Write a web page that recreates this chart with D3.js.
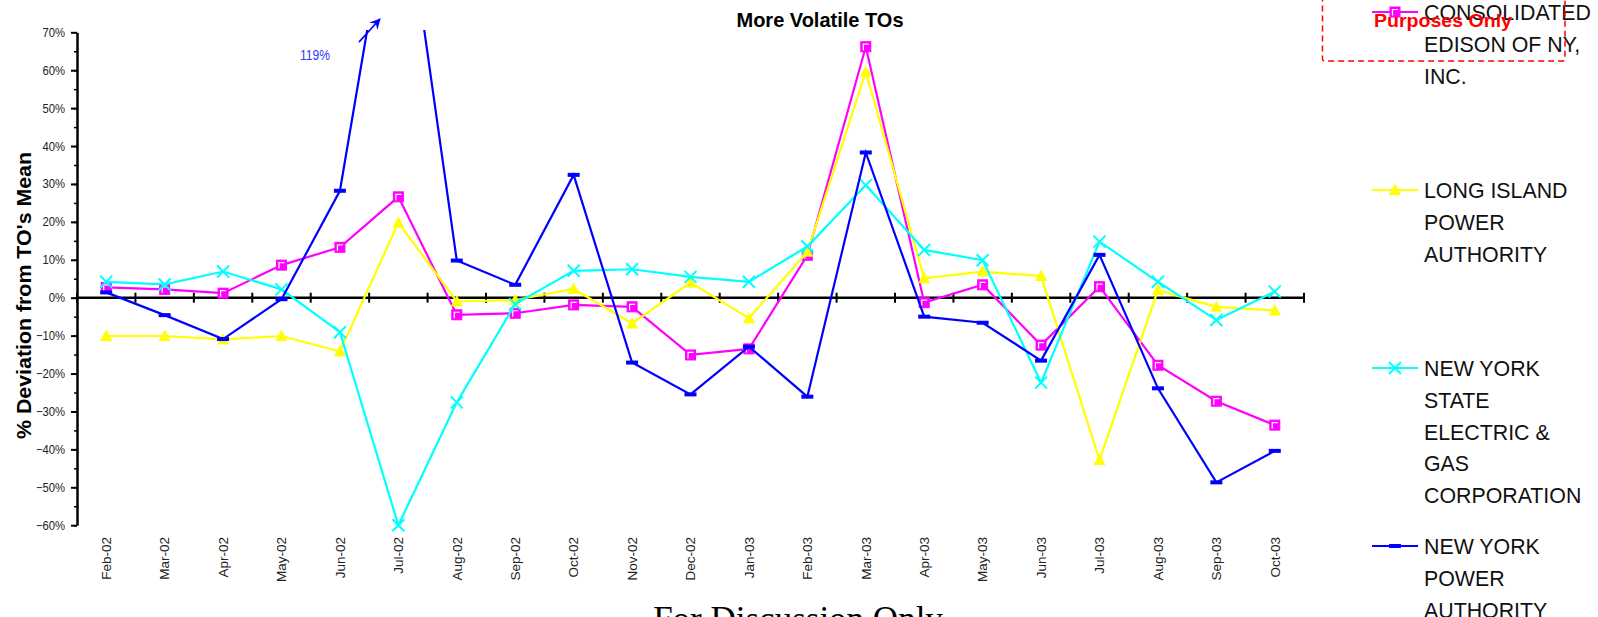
<!DOCTYPE html>
<html>
<head>
<meta charset="utf-8">
<script src="https://cdn.jsdelivr.net/npm/d3@7"></script>
<style>
  html, body { margin: 0; padding: 0; background: #fff; }
  svg { display: block; font-family: "Liberation Sans", Arial, sans-serif; }
</style>
</head>
<body>
<div id="chart"></div>
<script>
// Monthly % deviation from each TO's mean
const months = ['Feb-02', 'Mar-02', 'Apr-02', 'May-02', 'Jun-02', 'Jul-02', 'Aug-02', 'Sep-02',
    'Oct-02', 'Nov-02', 'Dec-02', 'Jan-03', 'Feb-03', 'Mar-03', 'Apr-03', 'May-03', 'Jun-03',
    'Jul-03', 'Aug-03', 'Sep-03', 'Oct-03'];

const conEd = [0.027, 0.022, 0.012, 0.086, 0.133, 0.266, -0.045, -0.041, -0.019, -0.024, -0.151,
    -0.135, 0.112, 0.662, -0.013, 0.034, -0.125, 0.029, -0.178, -0.273, -0.336];
const lipa = [-0.101, -0.101, -0.110, -0.101, -0.142, 0.198, -0.010, -0.006, 0.023, -0.068, 0.040,
    -0.054, 0.121, 0.596, 0.051, 0.069, 0.057, -0.428, 0.020, -0.024, -0.034];
const nyseg = [0.042, 0.035, 0.069, 0.022, -0.091, -0.600, -0.276, -0.017, 0.071, 0.075, 0.055,
    0.042, 0.135, 0.297, 0.126, 0.099, -0.224, 0.148, 0.042, -0.059, 0.016];
const nypa = [0.014, -0.046, -0.109, -0.004, 0.282, 1.19, 0.098, 0.034, 0.324, -0.171, -0.255,
    -0.129, -0.261, 0.383, -0.050, -0.066, -0.166, 0.113, -0.239, -0.487, -0.404];

const seriesNames = [
    ['CONSOLIDATED', 'EDISON OF NY,', 'INC.'],
    ['LONG ISLAND', 'POWER', 'AUTHORITY'],
    ['NEW YORK', 'STATE', 'ELECTRIC &', 'GAS', 'CORPORATION'],
    ['NEW YORK', 'POWER', 'AUTHORITY']
];
const seriesColors = ['#ff00ff', '#ffff00', '#00ffff', '#0000ff'];
const seriesMarkers = ['square', 'triangle', 'cross', 'dash'];
const seriesValues = [conEd, lipa, nyseg, nypa];

const yTicks = d3.range(-6, 8).map(d => d / 10);
const yMinorTicks = d3.range(-12, 15).map(d => d / 20);

const W = 1598, H = 617;

const svg = d3.select('#chart').append('svg')
    .attr('width', W)
    .attr('height', H);

svg.append('rect').attr('width', W).attr('height', H).attr('fill', '#fff');

// scales
const xScale = d3.scaleBand().domain(months).range([77, 1304]);
const yScale = d3.scaleLinear().domain([-0.6, 0.7]).range([525.2, 32.3]);
const bw = xScale.bandwidth();
const cx = m => xScale(m) + bw / 2;

// condense helper (source fonts are narrow)
function squeeze(sel, k) {
    sel.each(function () {
        const len = this.getComputedTextLength();
        d3.select(this).attr('textLength', len * k).attr('lengthAdjust', 'spacingAndGlyphs');
    });
}

// title
svg.append('text')
    .attr('x', 820).attr('y', 27)
    .attr('text-anchor', 'middle')
    .style('font-size', '21px').style('font-weight', 'bold')
    .attr('textLength', 167).attr('lengthAdjust', 'spacingAndGlyphs')
    .text('More Volatile TOs');

// y axis title
svg.append('text')
    .attr('transform', 'translate(31,295.5) rotate(-90)')
    .attr('text-anchor', 'middle')
    .style('font-size', '20px').style('font-weight', 'bold')
    .attr('textLength', 287).attr('lengthAdjust', 'spacingAndGlyphs')
    .text("% Deviation from TO's Mean");

// y axis: minor ticks then major
svg.append('g')
    .attr('transform', 'translate(77,0)')
    .call(d3.axisLeft(yScale).tickValues(yMinorTicks).tickSize(3).tickFormat(''))
    .call(g => g.select('.domain').remove())
    .selectAll('line').attr('stroke', '#000').attr('stroke-width', 1.5);

const yAxisG = svg.append('g')
    .attr('transform', 'translate(77,0)')
    .call(d3.axisLeft(yScale).tickValues(yTicks).tickSize(6).tickSizeOuter(0).tickPadding(6)
        .tickFormat(d3.format('.0%')));
yAxisG.select('.domain').attr('stroke', '#000').attr('stroke-width', 2.5);
yAxisG.selectAll('line').attr('stroke', '#000').attr('stroke-width', 2);
yAxisG.selectAll('text')
    .style('font-size', '12.5px')
    .style('font-family', '"Liberation Sans", Arial, sans-serif')
    .attr('fill', '#222')
    .call(squeeze, 0.9);

// x axis along 0%
const y0 = yScale(0);
const bounds = months.map(m => xScale(m)).concat([xScale.range()[1]]);
svg.append('line')
    .attr('x1', xScale.range()[0]).attr('x2', xScale.range()[1])
    .attr('y1', y0).attr('y2', y0)
    .attr('stroke', '#000').attr('stroke-width', 2.5);
svg.selectAll('.xtick')
    .data(bounds)
    .enter().append('line')
    .attr('class', 'xtick')
    .attr('x1', d => d).attr('x2', d => d)
    .attr('y1', y0 - 5).attr('y2', y0 + 5)
    .attr('stroke', '#000').attr('stroke-width', 2);

svg.selectAll('.xlabel')
    .data(months)
    .enter().append('text')
    .attr('class', 'xlabel')
    .attr('transform', d => `translate(${cx(d)},537) rotate(-90)`)
    .attr('dy', '0.35em')
    .attr('text-anchor', 'end')
    .style('font-size', '13.5px')
    .attr('fill', '#222')
    .text(d => d);

// series
svg.append('clipPath').attr('id', 'plot-clip')
    .append('rect')
    .attr('x', 0).attr('y', 30)
    .attr('width', W).attr('height', H - 30);

const line = d3.line()
    .x((d, i) => cx(months[i]))
    .y(d => yScale(d));

function drawMarker(g, type, color) {
    if (type === 'square') {
        g.append('rect').attr('x', -5).attr('y', -5).attr('width', 10).attr('height', 10)
            .attr('fill', color).attr('stroke', color).attr('stroke-width', 1);
        g.append('path').attr('d', 'M-2.5,3.5V-2.5H3').attr('fill', 'none')
            .attr('stroke', '#fff').attr('stroke-width', 1.2);
    } else if (type === 'triangle') {
        g.append('path').attr('d', 'M0,-6.5L6,5L-6,5Z').attr('fill', color);
    } else if (type === 'cross') {
        g.append('path').attr('d', 'M-6,-6L6,6M-6,6L6,-6').attr('stroke', color)
            .attr('stroke-width', 2).attr('fill', 'none');
    } else {
        g.append('rect').attr('x', -6).attr('y', -2).attr('width', 12).attr('height', 4)
            .attr('fill', color);
    }
}

seriesValues.forEach((vals, s) => {
    const g = svg.append('g').attr('clip-path', 'url(#plot-clip)');
    g.append('path')
        .datum(vals)
        .attr('d', line)
        .attr('fill', 'none')
        .attr('stroke', seriesColors[s])
        .attr('stroke-width', 2.2)
        .attr('stroke-linejoin', 'miter');
    vals.forEach((v, i) => {
        const mg = g.append('g').attr('transform', `translate(${cx(months[i])},${yScale(v)})`);
        drawMarker(mg, seriesMarkers[s], seriesColors[s]);
    });
});

// off-scale annotation for NYPA Jul-02
const junX = cx('Jun-02');
const defs = svg.append('defs');
defs.append('marker')
    .attr('id', 'arrowhead')
    .attr('viewBox', '0 -5 10 10')
    .attr('refX', 9).attr('refY', 0)
    .attr('markerWidth', 12).attr('markerHeight', 11)
    .attr('markerUnits', 'userSpaceOnUse')
    .attr('orient', 'auto')
    .append('path')
    .attr('d', 'M0,-5L10,0L0,5L3.5,0Z')
    .attr('fill', '#0000ff');
svg.append('line')
    .attr('x1', junX + 19).attr('y1', yScale(0.674))
    .attr('x2', junX + 40).attr('y2', yScale(0.735))
    .attr('stroke', '#0000ff').attr('stroke-width', 1.6)
    .attr('marker-end', 'url(#arrowhead)');
svg.append('text')
    .attr('x', junX - 25).attr('y', yScale(0.628))
    .attr('text-anchor', 'middle')
    .style('font-size', '14px')
    .attr('fill', '#3535ff')
    .attr('textLength', 30).attr('lengthAdjust', 'spacingAndGlyphs')
    .text(d3.format('.0%')(nypa[5]));

// legend
const legend = svg.append('g').attr('transform', 'translate(1372,0)');
seriesNames.forEach((lines, s) => {
    const base = 20 + s * 178;
    const lg = legend.append('g');
    lg.append('line')
        .attr('x1', 0).attr('x2', 46)
        .attr('y1', base - 8).attr('y2', base - 8)
        .attr('stroke', seriesColors[s]).attr('stroke-width', 2.2);
    const mg = lg.append('g').attr('transform', `translate(23,${base - 8})`);
    drawMarker(mg, seriesMarkers[s], seriesColors[s]);
    lg.selectAll('text')
        .data(lines)
        .enter().append('text')
        .attr('x', 52)
        .attr('y', (d, i) => base + i * 31.8)
        .style('font-size', '22px')
        .attr('fill', '#111')
        .text(d => d)
        .call(squeeze, 0.97);
});

// watermark box
svg.append('rect')
    .attr('x', 1322.5).attr('y', -40)
    .attr('width', 242.5).attr('height', 101)
    .attr('rx', 2)
    .attr('fill', 'none')
    .attr('stroke', '#ff0000')
    .attr('stroke-width', 1.5)
    .attr('stroke-dasharray', '6,4');
svg.append('text')
    .attr('x', 1374).attr('y', 27)
    .style('font-size', '18px').style('font-weight', 'bold')
    .attr('fill', '#ff0000')
    .attr('textLength', 138).attr('lengthAdjust', 'spacingAndGlyphs')
    .text('Purposes Only');

// footer (mostly below the page edge)
svg.append('text')
    .attr('x', 798).attr('y', 631)
    .attr('text-anchor', 'middle')
    .style('font-family', '"Liberation Serif", "Times New Roman", serif')
    .style('font-size', '35px')
    .attr('fill', '#000')
    .text('For Discussion Only');
</script>
</body>
</html>
